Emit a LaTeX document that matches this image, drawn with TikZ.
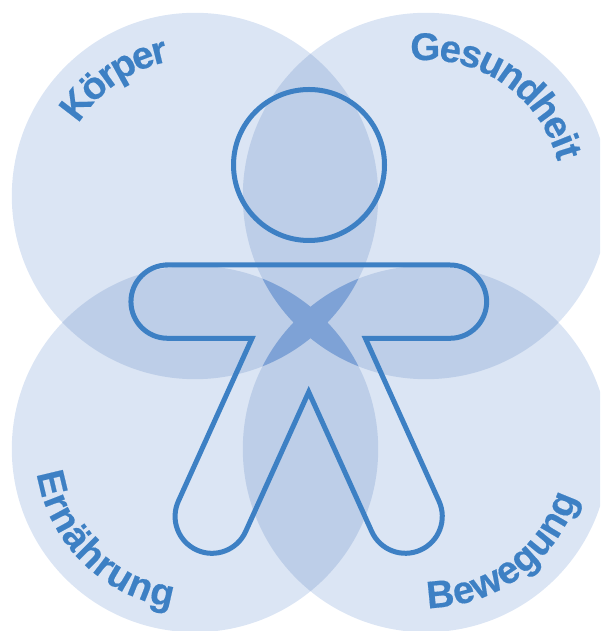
\documentclass[tikz,border=0pt]{standalone}
\usepackage{fontspec}
\setmainfont{Liberation Sans}
\newfontface\glyphface[FakeBold=0.4]{Liberation Sans Bold}
\definecolor{lightC}{HTML}{DBE5F4}
\definecolor{midC}{HTML}{BDCEE8}
\definecolor{darkC}{HTML}{7EA2D6}
\definecolor{lineC}{HTML}{3D80C4}
\newcommand{\pairfill}[3]{\begin{scope}\clip (#1) circle[radius=183.2pt];\fill[#3] (#2) circle[radius=183.2pt];\end{scope}}
% #1 centre, #2 radius, #3 start angle, #4 degrees per em (signed), #5 letter rotation offset, #6 prefix, #7 letters
\newcommand{\arcword}[7]{%
  \foreach \ch/\em [count=\i] in {#7}{%
    \pgfmathsetmacro\ang{#3+\em*(#4)}%
    \pgfmathsetmacro\rot{\ang+(#5)}%
    \node[glyph,rotate=\rot] (#6\i) at ([shift={(\ang:#2)}]#1) {\ch};
  }}
\tikzset{
  glyph/.style={inner sep=0pt,anchor=base,text=lineC,font=\glyphface\fontsize{38.5}{38.5}\selectfont},
  figure line/.style={draw=lineC,line width=5pt}
}
\begin{document}
\begin{tikzpicture}[x=1pt,y=1pt]
\clip (0,0) rectangle (600,631);
\coordinate (TL) at (195,435);
\coordinate (TR) at (426,435);
\coordinate (BL) at (195,182);
\coordinate (BR) at (426,182);
\foreach \c in {TL,TR,BL,BR} \fill[lightC] (\c) circle[radius=183.2pt];
\pairfill{TL}{TR}{midC}
\pairfill{BL}{BR}{midC}
\pairfill{TL}{BL}{midC}
\pairfill{TR}{BR}{midC}
\pairfill{TL}{BR}{darkC}
\pairfill{TR}{BL}{darkC}
\draw[figure line] (309,466) circle[radius=75.5pt];
\draw[figure line] (167.6,366) -- (450,366)
  arc[start angle=90,end angle=-90,radius=36.65pt]
  -- (365.4,292.7) -- (439,129.8)
  arc[start angle=24.3,end angle=-155.7,radius=36.9pt]
  -- (308.7,239) -- (245.6,99.4)
  arc[start angle=-24.3,end angle=-204.3,radius=36.9pt]
  -- (252,292.7) -- (167.6,292.7)
  arc[start angle=270,end angle=90,radius=36.65pt] -- cycle;
\arcword{TL}{137pt}{147.5}{-14.1}{-90}{k}{K/.361,ö/1.0275,r/1.5275,p/2.0275,e/2.611,r/3.0835}
\arcword{TR}{136pt}{96}{-14.75}{-90}{g}{G/.389,e/1.056,s/1.612,u/2.1955,n/2.8065,d/3.4175,h/4.0285,e/4.612,i/5.029,t/5.3345}
\arcword{BL}{160pt}{188.6}{14.45}{90}{n}{E/.3335,r/.8615,n/1.3615,ä/1.945,h/2.5285,r/3.0285,u/3.5285,n/4.1395,g/4.7505}
\arcword{BR}{159pt}{270.5}{14.2}{90}{b}{B/.361,e/1.0,w/1.667,e/2.334,g/2.9175,u/3.5285,n/4.1395,g/4.7505}
\end{tikzpicture}
\end{document}
